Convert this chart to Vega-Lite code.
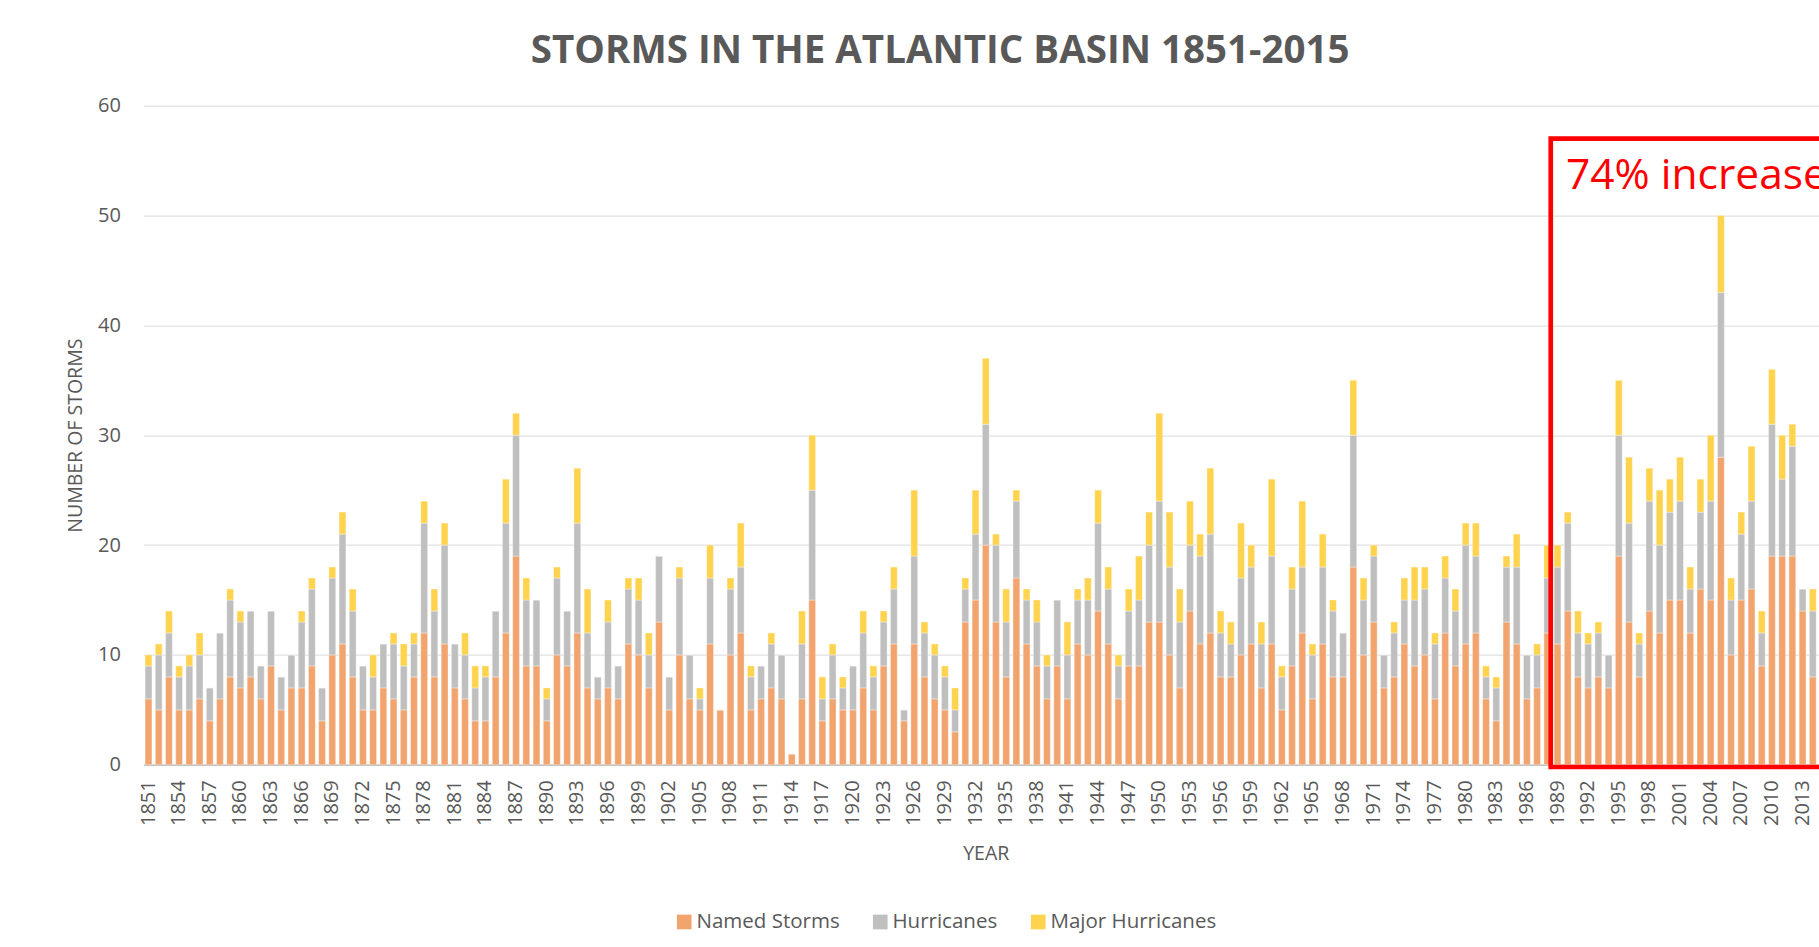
{
  "$schema": "https://vega.github.io/schema/vega-lite/v6.json",
  "width": 1675.6,
  "height": 659.2,
  "autosize": {"type": "none"},
  "padding": {"left": 143.4, "top": 105.6, "right": 0, "bottom": 182.2},
  "background": "white",
  "config": {"view": {"stroke": null}, "font": "Open Sans"},
  "title": {"text": "STORMS IN THE ATLANTIC BASIN 1851-2015", "font": "Open Sans", "fontSize": 38.5, "fontWeight": "bold", "color": "#595959", "anchor": "middle", "dx": -41, "offset": -5.5, "baseline": "alphabetic", "frame": "group"},
  "data": {"values": [
    {"year":1851,"Named Storms":6,"Hurricanes":3,"Major Hurricanes":1},
    {"year":1852,"Named Storms":5,"Hurricanes":5,"Major Hurricanes":1},
    {"year":1853,"Named Storms":8,"Hurricanes":4,"Major Hurricanes":2},
    {"year":1854,"Named Storms":5,"Hurricanes":3,"Major Hurricanes":1},
    {"year":1855,"Named Storms":5,"Hurricanes":4,"Major Hurricanes":1},
    {"year":1856,"Named Storms":6,"Hurricanes":4,"Major Hurricanes":2},
    {"year":1857,"Named Storms":4,"Hurricanes":3,"Major Hurricanes":0},
    {"year":1858,"Named Storms":6,"Hurricanes":6,"Major Hurricanes":0},
    {"year":1859,"Named Storms":8,"Hurricanes":7,"Major Hurricanes":1},
    {"year":1860,"Named Storms":7,"Hurricanes":6,"Major Hurricanes":1},
    {"year":1861,"Named Storms":8,"Hurricanes":6,"Major Hurricanes":0},
    {"year":1862,"Named Storms":6,"Hurricanes":3,"Major Hurricanes":0},
    {"year":1863,"Named Storms":9,"Hurricanes":5,"Major Hurricanes":0},
    {"year":1864,"Named Storms":5,"Hurricanes":3,"Major Hurricanes":0},
    {"year":1865,"Named Storms":7,"Hurricanes":3,"Major Hurricanes":0},
    {"year":1866,"Named Storms":7,"Hurricanes":6,"Major Hurricanes":1},
    {"year":1867,"Named Storms":9,"Hurricanes":7,"Major Hurricanes":1},
    {"year":1868,"Named Storms":4,"Hurricanes":3,"Major Hurricanes":0},
    {"year":1869,"Named Storms":10,"Hurricanes":7,"Major Hurricanes":1},
    {"year":1870,"Named Storms":11,"Hurricanes":10,"Major Hurricanes":2},
    {"year":1871,"Named Storms":8,"Hurricanes":6,"Major Hurricanes":2},
    {"year":1872,"Named Storms":5,"Hurricanes":4,"Major Hurricanes":0},
    {"year":1873,"Named Storms":5,"Hurricanes":3,"Major Hurricanes":2},
    {"year":1874,"Named Storms":7,"Hurricanes":4,"Major Hurricanes":0},
    {"year":1875,"Named Storms":6,"Hurricanes":5,"Major Hurricanes":1},
    {"year":1876,"Named Storms":5,"Hurricanes":4,"Major Hurricanes":2},
    {"year":1877,"Named Storms":8,"Hurricanes":3,"Major Hurricanes":1},
    {"year":1878,"Named Storms":12,"Hurricanes":10,"Major Hurricanes":2},
    {"year":1879,"Named Storms":8,"Hurricanes":6,"Major Hurricanes":2},
    {"year":1880,"Named Storms":11,"Hurricanes":9,"Major Hurricanes":2},
    {"year":1881,"Named Storms":7,"Hurricanes":4,"Major Hurricanes":0},
    {"year":1882,"Named Storms":6,"Hurricanes":4,"Major Hurricanes":2},
    {"year":1883,"Named Storms":4,"Hurricanes":3,"Major Hurricanes":2},
    {"year":1884,"Named Storms":4,"Hurricanes":4,"Major Hurricanes":1},
    {"year":1885,"Named Storms":8,"Hurricanes":6,"Major Hurricanes":0},
    {"year":1886,"Named Storms":12,"Hurricanes":10,"Major Hurricanes":4},
    {"year":1887,"Named Storms":19,"Hurricanes":11,"Major Hurricanes":2},
    {"year":1888,"Named Storms":9,"Hurricanes":6,"Major Hurricanes":2},
    {"year":1889,"Named Storms":9,"Hurricanes":6,"Major Hurricanes":0},
    {"year":1890,"Named Storms":4,"Hurricanes":2,"Major Hurricanes":1},
    {"year":1891,"Named Storms":10,"Hurricanes":7,"Major Hurricanes":1},
    {"year":1892,"Named Storms":9,"Hurricanes":5,"Major Hurricanes":0},
    {"year":1893,"Named Storms":12,"Hurricanes":10,"Major Hurricanes":5},
    {"year":1894,"Named Storms":7,"Hurricanes":5,"Major Hurricanes":4},
    {"year":1895,"Named Storms":6,"Hurricanes":2,"Major Hurricanes":0},
    {"year":1896,"Named Storms":7,"Hurricanes":6,"Major Hurricanes":2},
    {"year":1897,"Named Storms":6,"Hurricanes":3,"Major Hurricanes":0},
    {"year":1898,"Named Storms":11,"Hurricanes":5,"Major Hurricanes":1},
    {"year":1899,"Named Storms":10,"Hurricanes":5,"Major Hurricanes":2},
    {"year":1900,"Named Storms":7,"Hurricanes":3,"Major Hurricanes":2},
    {"year":1901,"Named Storms":13,"Hurricanes":6,"Major Hurricanes":0},
    {"year":1902,"Named Storms":5,"Hurricanes":3,"Major Hurricanes":0},
    {"year":1903,"Named Storms":10,"Hurricanes":7,"Major Hurricanes":1},
    {"year":1904,"Named Storms":6,"Hurricanes":4,"Major Hurricanes":0},
    {"year":1905,"Named Storms":5,"Hurricanes":1,"Major Hurricanes":1},
    {"year":1906,"Named Storms":11,"Hurricanes":6,"Major Hurricanes":3},
    {"year":1907,"Named Storms":5,"Hurricanes":0,"Major Hurricanes":0},
    {"year":1908,"Named Storms":10,"Hurricanes":6,"Major Hurricanes":1},
    {"year":1909,"Named Storms":12,"Hurricanes":6,"Major Hurricanes":4},
    {"year":1910,"Named Storms":5,"Hurricanes":3,"Major Hurricanes":1},
    {"year":1911,"Named Storms":6,"Hurricanes":3,"Major Hurricanes":0},
    {"year":1912,"Named Storms":7,"Hurricanes":4,"Major Hurricanes":1},
    {"year":1913,"Named Storms":6,"Hurricanes":4,"Major Hurricanes":0},
    {"year":1914,"Named Storms":1,"Hurricanes":0,"Major Hurricanes":0},
    {"year":1915,"Named Storms":6,"Hurricanes":5,"Major Hurricanes":3},
    {"year":1916,"Named Storms":15,"Hurricanes":10,"Major Hurricanes":5},
    {"year":1917,"Named Storms":4,"Hurricanes":2,"Major Hurricanes":2},
    {"year":1918,"Named Storms":6,"Hurricanes":4,"Major Hurricanes":1},
    {"year":1919,"Named Storms":5,"Hurricanes":2,"Major Hurricanes":1},
    {"year":1920,"Named Storms":5,"Hurricanes":4,"Major Hurricanes":0},
    {"year":1921,"Named Storms":7,"Hurricanes":5,"Major Hurricanes":2},
    {"year":1922,"Named Storms":5,"Hurricanes":3,"Major Hurricanes":1},
    {"year":1923,"Named Storms":9,"Hurricanes":4,"Major Hurricanes":1},
    {"year":1924,"Named Storms":11,"Hurricanes":5,"Major Hurricanes":2},
    {"year":1925,"Named Storms":4,"Hurricanes":1,"Major Hurricanes":0},
    {"year":1926,"Named Storms":11,"Hurricanes":8,"Major Hurricanes":6},
    {"year":1927,"Named Storms":8,"Hurricanes":4,"Major Hurricanes":1},
    {"year":1928,"Named Storms":6,"Hurricanes":4,"Major Hurricanes":1},
    {"year":1929,"Named Storms":5,"Hurricanes":3,"Major Hurricanes":1},
    {"year":1930,"Named Storms":3,"Hurricanes":2,"Major Hurricanes":2},
    {"year":1931,"Named Storms":13,"Hurricanes":3,"Major Hurricanes":1},
    {"year":1932,"Named Storms":15,"Hurricanes":6,"Major Hurricanes":4},
    {"year":1933,"Named Storms":20,"Hurricanes":11,"Major Hurricanes":6},
    {"year":1934,"Named Storms":13,"Hurricanes":7,"Major Hurricanes":1},
    {"year":1935,"Named Storms":8,"Hurricanes":5,"Major Hurricanes":3},
    {"year":1936,"Named Storms":17,"Hurricanes":7,"Major Hurricanes":1},
    {"year":1937,"Named Storms":11,"Hurricanes":4,"Major Hurricanes":1},
    {"year":1938,"Named Storms":9,"Hurricanes":4,"Major Hurricanes":2},
    {"year":1939,"Named Storms":6,"Hurricanes":3,"Major Hurricanes":1},
    {"year":1940,"Named Storms":9,"Hurricanes":6,"Major Hurricanes":0},
    {"year":1941,"Named Storms":6,"Hurricanes":4,"Major Hurricanes":3},
    {"year":1942,"Named Storms":11,"Hurricanes":4,"Major Hurricanes":1},
    {"year":1943,"Named Storms":10,"Hurricanes":5,"Major Hurricanes":2},
    {"year":1944,"Named Storms":14,"Hurricanes":8,"Major Hurricanes":3},
    {"year":1945,"Named Storms":11,"Hurricanes":5,"Major Hurricanes":2},
    {"year":1946,"Named Storms":6,"Hurricanes":3,"Major Hurricanes":1},
    {"year":1947,"Named Storms":9,"Hurricanes":5,"Major Hurricanes":2},
    {"year":1948,"Named Storms":9,"Hurricanes":6,"Major Hurricanes":4},
    {"year":1949,"Named Storms":13,"Hurricanes":7,"Major Hurricanes":3},
    {"year":1950,"Named Storms":13,"Hurricanes":11,"Major Hurricanes":8},
    {"year":1951,"Named Storms":10,"Hurricanes":8,"Major Hurricanes":5},
    {"year":1952,"Named Storms":7,"Hurricanes":6,"Major Hurricanes":3},
    {"year":1953,"Named Storms":14,"Hurricanes":6,"Major Hurricanes":4},
    {"year":1954,"Named Storms":11,"Hurricanes":8,"Major Hurricanes":2},
    {"year":1955,"Named Storms":12,"Hurricanes":9,"Major Hurricanes":6},
    {"year":1956,"Named Storms":8,"Hurricanes":4,"Major Hurricanes":2},
    {"year":1957,"Named Storms":8,"Hurricanes":3,"Major Hurricanes":2},
    {"year":1958,"Named Storms":10,"Hurricanes":7,"Major Hurricanes":5},
    {"year":1959,"Named Storms":11,"Hurricanes":7,"Major Hurricanes":2},
    {"year":1960,"Named Storms":7,"Hurricanes":4,"Major Hurricanes":2},
    {"year":1961,"Named Storms":11,"Hurricanes":8,"Major Hurricanes":7},
    {"year":1962,"Named Storms":5,"Hurricanes":3,"Major Hurricanes":1},
    {"year":1963,"Named Storms":9,"Hurricanes":7,"Major Hurricanes":2},
    {"year":1964,"Named Storms":12,"Hurricanes":6,"Major Hurricanes":6},
    {"year":1965,"Named Storms":6,"Hurricanes":4,"Major Hurricanes":1},
    {"year":1966,"Named Storms":11,"Hurricanes":7,"Major Hurricanes":3},
    {"year":1967,"Named Storms":8,"Hurricanes":6,"Major Hurricanes":1},
    {"year":1968,"Named Storms":8,"Hurricanes":4,"Major Hurricanes":0},
    {"year":1969,"Named Storms":18,"Hurricanes":12,"Major Hurricanes":5},
    {"year":1970,"Named Storms":10,"Hurricanes":5,"Major Hurricanes":2},
    {"year":1971,"Named Storms":13,"Hurricanes":6,"Major Hurricanes":1},
    {"year":1972,"Named Storms":7,"Hurricanes":3,"Major Hurricanes":0},
    {"year":1973,"Named Storms":8,"Hurricanes":4,"Major Hurricanes":1},
    {"year":1974,"Named Storms":11,"Hurricanes":4,"Major Hurricanes":2},
    {"year":1975,"Named Storms":9,"Hurricanes":6,"Major Hurricanes":3},
    {"year":1976,"Named Storms":10,"Hurricanes":6,"Major Hurricanes":2},
    {"year":1977,"Named Storms":6,"Hurricanes":5,"Major Hurricanes":1},
    {"year":1978,"Named Storms":12,"Hurricanes":5,"Major Hurricanes":2},
    {"year":1979,"Named Storms":9,"Hurricanes":5,"Major Hurricanes":2},
    {"year":1980,"Named Storms":11,"Hurricanes":9,"Major Hurricanes":2},
    {"year":1981,"Named Storms":12,"Hurricanes":7,"Major Hurricanes":3},
    {"year":1982,"Named Storms":6,"Hurricanes":2,"Major Hurricanes":1},
    {"year":1983,"Named Storms":4,"Hurricanes":3,"Major Hurricanes":1},
    {"year":1984,"Named Storms":13,"Hurricanes":5,"Major Hurricanes":1},
    {"year":1985,"Named Storms":11,"Hurricanes":7,"Major Hurricanes":3},
    {"year":1986,"Named Storms":6,"Hurricanes":4,"Major Hurricanes":0},
    {"year":1987,"Named Storms":7,"Hurricanes":3,"Major Hurricanes":1},
    {"year":1988,"Named Storms":12,"Hurricanes":5,"Major Hurricanes":3},
    {"year":1989,"Named Storms":11,"Hurricanes":7,"Major Hurricanes":2},
    {"year":1990,"Named Storms":14,"Hurricanes":8,"Major Hurricanes":1},
    {"year":1991,"Named Storms":8,"Hurricanes":4,"Major Hurricanes":2},
    {"year":1992,"Named Storms":7,"Hurricanes":4,"Major Hurricanes":1},
    {"year":1993,"Named Storms":8,"Hurricanes":4,"Major Hurricanes":1},
    {"year":1994,"Named Storms":7,"Hurricanes":3,"Major Hurricanes":0},
    {"year":1995,"Named Storms":19,"Hurricanes":11,"Major Hurricanes":5},
    {"year":1996,"Named Storms":13,"Hurricanes":9,"Major Hurricanes":6},
    {"year":1997,"Named Storms":8,"Hurricanes":3,"Major Hurricanes":1},
    {"year":1998,"Named Storms":14,"Hurricanes":10,"Major Hurricanes":3},
    {"year":1999,"Named Storms":12,"Hurricanes":8,"Major Hurricanes":5},
    {"year":2000,"Named Storms":15,"Hurricanes":8,"Major Hurricanes":3},
    {"year":2001,"Named Storms":15,"Hurricanes":9,"Major Hurricanes":4},
    {"year":2002,"Named Storms":12,"Hurricanes":4,"Major Hurricanes":2},
    {"year":2003,"Named Storms":16,"Hurricanes":7,"Major Hurricanes":3},
    {"year":2004,"Named Storms":15,"Hurricanes":9,"Major Hurricanes":6},
    {"year":2005,"Named Storms":28,"Hurricanes":15,"Major Hurricanes":7},
    {"year":2006,"Named Storms":10,"Hurricanes":5,"Major Hurricanes":2},
    {"year":2007,"Named Storms":15,"Hurricanes":6,"Major Hurricanes":2},
    {"year":2008,"Named Storms":16,"Hurricanes":8,"Major Hurricanes":5},
    {"year":2009,"Named Storms":9,"Hurricanes":3,"Major Hurricanes":2},
    {"year":2010,"Named Storms":19,"Hurricanes":12,"Major Hurricanes":5},
    {"year":2011,"Named Storms":19,"Hurricanes":7,"Major Hurricanes":4},
    {"year":2012,"Named Storms":19,"Hurricanes":10,"Major Hurricanes":2},
    {"year":2013,"Named Storms":14,"Hurricanes":2,"Major Hurricanes":0},
    {"year":2014,"Named Storms":8,"Hurricanes":6,"Major Hurricanes":2},
    {"year":2015,"Named Storms":11,"Hurricanes":4,"Major Hurricanes":2}
  ]},
  "layer": [
    {
      "transform": [
        {"fold": ["Named Storms", "Hurricanes", "Major Hurricanes"], "as": ["type", "count"]},
        {"window": [{"op": "row_number", "as": "stackOrder"}], "groupby": ["year"]}
      ],
      "mark": {"type": "bar", "stroke": "#ffffff", "strokeWidth": 0.6, "strokeOpacity": 0.6},
      "encoding": {
        "x": {
          "field": "year", "type": "ordinal",
          "scale": {"range": [0, 1684.7], "paddingInner": 0.33, "paddingOuter": 0.165},
          "axis": {
            "title": "YEAR",
            "values": [1851,1854,1857,1860,1863,1866,1869,1872,1875,1878,1881,1884,1887,1890,1893,1896,1899,1902,1905,1908,1911,1914,1917,1920,1923,1926,1929,1932,1935,1938,1941,1944,1947,1950,1953,1956,1959,1962,1965,1968,1971,1974,1977,1980,1983,1986,1989,1992,1995,1998,2001,2004,2007,2010,2013],
            "labelAngle": -90, "labelFont": "Open Sans", "labelFontSize": 20, "labelColor": "#595959",
            "labelPadding": 15, "labelOverlap": false, "ticks": false,
            "domainColor": "#BFBFBF", "domainWidth": 1.5, "grid": false,
            "titleFont": "Open Sans", "titleFontSize": 19.5, "titleFontWeight": "normal", "titleColor": "#595959", "titlePadding": 18.5
          }
        },
        "y": {
          "field": "count", "type": "quantitative", "stack": "zero",
          "scale": {"domain": [0, 60], "nice": false},
          "axis": {
            "title": "NUMBER OF STORMS", "values": [0, 10, 20, 30, 40, 50, 60],
            "domain": false, "ticks": false, "gridColor": "#D9D9D9", "gridWidth": 1,
            "labelFont": "Open Sans", "labelFontSize": 20, "labelColor": "#595959", "labelPadding": 23,
            "titleFont": "Open Sans", "titleFontSize": 19.5, "titleFontWeight": "normal", "titleColor": "#595959", "titlePadding": 12
          }
        },
        "order": {"field": "stackOrder", "type": "quantitative", "sort": "ascending"},
        "color": {
          "field": "type", "type": "nominal",
          "scale": {"domain": ["Named Storms", "Hurricanes", "Major Hurricanes"], "range": ["#F2A46F", "#BFBFBF", "#FFD34E"]},
          "legend": {
            "orient": "none", "legendX": 530.6, "legendY": 806, "direction": "horizontal", "title": null,
            "symbolType": "square", "symbolSize": 215, "symbolStrokeWidth": 0,
            "labelFont": "Open Sans", "labelFontSize": 20.5, "labelColor": "#595959", "labelOffset": 2, "columnPadding": 30, "labelLimit": 400
          }
        }
      }
    },
    {
      "data": {"values": [{}]},
      "mark": {"type": "rect", "fill": "transparent", "stroke": "#FF0000", "strokeWidth": 4.7},
      "encoding": {
        "x": {"datum": 1988, "type": "ordinal", "bandPosition": 1.0},
        "x2": {"datum": 2015},
        "y": {"datum": 57, "type": "quantitative"},
        "y2": {"datum": -0.2}
      }
    },
    {
      "data": {"values": [{}]},
      "mark": {"type": "text", "text": "74% increase", "font": "Open Sans", "fontSize": 42.5, "color": "#FF0000", "align": "left", "baseline": "alphabetic", "dx": 18.7},
      "encoding": {
        "x": {"datum": 1988, "type": "ordinal"},
        "y": {"datum": 52.4, "type": "quantitative"}
      }
    }
  ]
}
